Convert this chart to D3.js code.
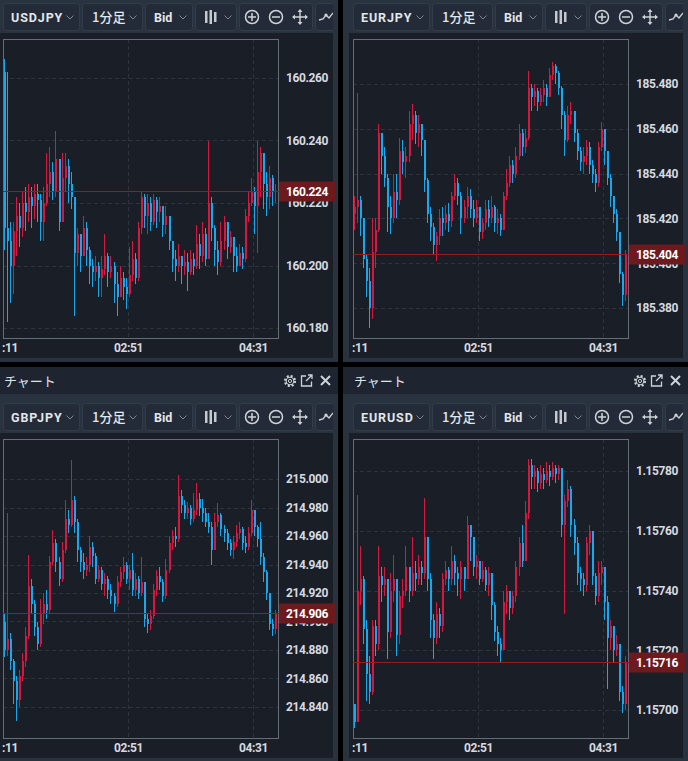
<!DOCTYPE html>
<html>
<head>
<meta charset="utf-8">
<script src="https://cdn.jsdelivr.net/npm/d3@7"></script>
<style>
  html, body { margin: 0; padding: 0; background: #000; overflow: hidden; }
  text { font-family: Roboto, "Noto Sans", sans-serif; }
</style>
</head>
<body>
<script>
// ---- data ----
// time axis, 1 session of ~220 minutes
const sessionStart = "01:11";
const sessionEnd = "04:51";
const timeLabels = ["01:11", "02:51", "04:31"];

// USDJPY, offsets in 0.001 above 160
const usdjpyTicks = [160.18, 160.20, 160.22, 160.24, 160.26];
const usdjpyOpen = 262;
const usdjpyClose = [212,208,200,211,216,212,220,217,222,219, 223,221,214,220,226,230,224,234,214,228,
  232,226,222,204,210,203,212,205,200,198, 200,196,199,203,198,200,194,190,196,193,
  191,197,202,196,212,222,216,220,214,221, 217,219,213,216,208,202,200,203,200,201,
  198,202,200,207,203,210,202,220,212,205, 201,208,214,206,209,203,200,204,202,216,
  220,224,219,230,236,226,222,228,224,224];
const usdjpyHigh = [266,262,214,214,222,220,224,225,226,225, 226,226,223,225,236,238,233,243,234,236,
  236,234,230,222,212,210,216,214,206,202, 203,201,203,210,204,203,201,198,200,198,
  196,206,208,204,214,224,223,223,222,223, 222,222,219,219,216,208,205,207,203,205,
  204,205,204,213,210,214,212,240,222,213, 208,214,216,214,211,208,206,207,206,218,
  224,228,225,240,238,234,230,232,229,226];
const usdjpyLow = [205,182,188,191,203,206,209,211,214,212, 215,214,208,208,219,222,221,222,211,218,
  224,220,218,184,200,198,204,200,194,193, 195,190,190,197,193,196,188,184,190,189,
  186,190,195,194,195,210,212,210,211,213, 212,214,209,210,205,198,195,198,194,197,
  192,197,197,199,199,201,200,202,208,200, 197,200,205,202,204,198,198,200,199,201,
  214,219,210,204,222,218,216,218,219,220];

// EURJPY, offsets in 0.001 above 185
const eurjpyTicks = [185.38, 185.40, 185.42, 185.44, 185.46, 185.48];
const eurjpyOpen = 422;
const eurjpyClose = [425,428,420,402,392,380,405,415,458,448, 438,425,420,432,428,450,445,448,462,466,
  458,462,455,437,422,416,408,412,420,418, 422,419,430,436,430,420,425,430,424,420,
  425,414,418,424,420,425,418,420,415,430, 436,444,440,448,458,452,456,478,474,477,
  472,475,478,474,484,488,485,478,466,455, 466,468,458,450,445,448,452,444,440,436,
  452,460,450,438,430,422,414,395,386,404];
const eurjpyHigh = [430,476,430,420,404,398,420,420,462,458, 452,440,430,440,440,456,455,452,468,471,
  468,466,462,455,438,425,418,414,424,425, 426,427,432,440,438,432,428,434,433,428,
  428,425,420,428,428,430,426,424,422,432, 442,448,446,452,462,460,460,486,480,480,
  478,478,482,480,487,490,489,486,479,468, 470,472,468,460,452,452,455,454,446,442,
  454,463,460,450,440,430,424,414,396,406];
const eurjpyLow = [415,418,412,398,385,371,375,398,414,440, 434,414,413,418,420,426,440,438,445,455,
  453,452,448,432,418,410,404,401,408,412, 415,414,416,428,426,413,418,420,420,416,
  418,410,411,415,416,418,414,413,412,415, 428,434,436,438,446,448,449,455,468,470,
  468,470,472,470,474,482,480,475,460,448, 454,462,454,446,441,440,444,440,436,432,
  434,450,444,435,425,418,410,391,381,383];

// GBPJPY, offsets in 0.001 above 214
const gbpjpyTicks = [214.84, 214.86, 214.88, 214.90, 214.92, 214.94, 214.96, 214.98, 215.00];
const gbpjpyOpen = 900;
const gbpjpyClose = [880,888,872,858,845,862,872,890,925,912, 896,884,905,912,908,942,955,942,930,950,
  972,968,985,970,950,942,936,940,952,946, 930,936,926,930,922,918,912,928,935,940,
  930,936,922,930,920,928,902,898,904,922, 932,928,918,936,955,960,958,988,982,976,
  980,972,978,986,980,976,970,966,950,970, 975,965,962,955,950,956,962,965,955,952,
  962,978,966,958,945,935,920,898,895,906];
const gbpjpyHigh = [905,976,892,874,862,866,878,896,947,930, 915,900,916,920,922,946,964,958,945,956,
  985,978,1013,988,972,952,948,945,960,956, 948,940,938,934,932,926,920,932,938,945,
  942,940,948,934,932,945,928,906,908,926, 936,938,930,944,960,964,966,1003,992,985,
  984,982,990,997,990,986,980,976,970,976, 983,976,968,965,958,960,968,970,966,960,
  966,985,978,968,970,948,936,920,902,908];
const gbpjpyLow = [875,876,866,842,830,840,858,868,888,905, 890,880,882,898,902,905,940,935,925,928,
  948,962,966,962,942,935,930,932,935,938, 926,928,922,918,916,912,907,910,924,930,
  926,922,918,918,916,918,896,892,894,902, 918,922,914,916,934,950,952,956,976,972,
  972,968,970,975,974,970,966,962,940,958, 966,960,956,950,946,944,952,958,950,948,
  950,960,960,952,940,928,915,894,890,891];

// EURUSD, offsets in 0.00001 above 1.157
const eurusdTicks = [1.1570, 1.1572, 1.1574, 1.1576, 1.1578];
const eurusdOpen = 2;
const eurusdClose = [-4,40,44,27,12,6,28,22,45,42, 44,26,40,44,25,38,40,48,40,46,
  44,48,46,58,44,30,24,32,28,44, 47,44,50,46,44,48,44,62,58,48,
  50,44,47,42,46,35,26,22,20,36, 40,34,38,48,56,50,66,82,78,80,
  76,79,77,80,78,81,79,81,62,70, 74,62,56,46,44,42,56,60,45,38,
  46,48,36,24,28,20,22,6,2,16];
const eurusdHigh = [2,72,55,45,30,18,30,30,55,48, 48,44,46,52,44,40,44,55,48,58,
  50,52,50,71,58,46,32,36,34,46, 50,48,55,52,48,50,48,65,62,58,
  52,50,50,48,48,46,36,28,24,40, 42,40,40,50,58,62,70,84,84,82,
  81,82,81,83,82,83,82,82,81,72, 77,75,64,58,48,46,58,62,60,46,
  50,50,48,38,30,28,25,22,8,18];
const eurusdLow = [-6,0,35,22,3,2,5,18,20,36, 38,17,24,36,18,22,34,38,36,38,
  40,42,42,44,40,24,17,22,24,26, 42,40,42,42,38,37,40,44,50,45,
  44,42,43,40,38,30,23,18,16,20, 32,30,32,36,45,48,50,64,74,74,
  73,74,74,76,75,77,76,77,58,32, 68,58,52,42,40,38,40,52,42,35,
  36,42,30,7,20,16,18,3,-1,0];

// ---- layout ----
const W = 688, H = 761;
const panels = [
  { symbol: "USDJPY", ox: 0,   oy: 0,   base: 160,   unit: 0.001,   digits: 3, open0: usdjpyOpen, close: usdjpyClose, high: usdjpyHigh, low: usdjpyLow, ticks: usdjpyTicks, yRange: [328, 78] },
  { symbol: "EURJPY", ox: 350, oy: 0,   base: 185,   unit: 0.001,   digits: 3, open0: eurjpyOpen, close: eurjpyClose, high: eurjpyHigh, low: eurjpyLow, ticks: eurjpyTicks, yRange: [308, 84] },
  { symbol: "GBPJPY", ox: 0,   oy: 400, base: 214,   unit: 0.001,   digits: 3, open0: gbpjpyOpen, close: gbpjpyClose, high: gbpjpyHigh, low: gbpjpyLow, ticks: gbpjpyTicks, yRange: [307, 79] },
  { symbol: "EURUSD", ox: 350, oy: 400, base: 1.157, unit: 0.00001, digits: 5, open0: eurusdOpen, close: eurusdClose, high: eurusdHigh, low: eurusdLow, ticks: eurusdTicks, yRange: [310, 71] }
];

const frame = { x0: 3, x1: 278, y0: 39, y1: 338 };
const colors = {
  panel: "#29323f", title: "#1e2530", chart: "#1a1f27", btn: "#222b37", btnStroke: "#323d4b",
  grid: "#2c3440", frame: "#646e79", text: "#d6dae0", icon: "#cfd3d9", chevron: "#7d8794",
  up: "#d8173f", down: "#17a8ef", priceLine: "#9a1c23", priceBox: "#6d1a1f"
};

const parseTime = d3.timeParse("%H:%M");
const t0 = parseTime(sessionStart), t1 = parseTime(sessionEnd);

const svg = d3.select("body").append("svg")
  .attr("width", W).attr("height", H)
  .attr("xmlns", "http://www.w3.org/2000/svg");
svg.append("rect").attr("width", W).attr("height", H).attr("fill", "#000");

panels.forEach((p, pi) => {
  const g = svg.append("g").attr("transform", `translate(${p.ox},${p.oy})`);

  // panel shell: border / toolbar colour, title bar, dark chart area
  g.append("rect").attr("x", -7).attr("y", -33).attr("width", 345).attr("height", 395).attr("fill", colors.panel);
  g.append("rect").attr("x", -7).attr("y", -33).attr("width", 345).attr("height", 27).attr("fill", colors.title);
  g.append("rect").attr("x", -1).attr("y", 33).attr("width", 334).attr("height", 325).attr("fill", colors.chart);

  // the top row's title bars sit above the window
  if (p.oy > 0) drawTitleBar(g);
  drawToolbar(g, p.symbol, pi);

  // scales
  const x = d3.scaleTime().domain([t0, t1]).range([frame.x0, frame.x1]);
  const y = d3.scaleLinear().domain([p.ticks[0], p.ticks[p.ticks.length - 1]]).range(p.yRange);
  const price = v => p.base + v * p.unit;

  // grid
  const grid = g.append("g").attr("stroke", colors.grid).attr("stroke-dasharray", "4,3").attr("shape-rendering", "crispEdges");
  grid.selectAll("line.h").data(p.ticks).enter().append("line")
    .attr("x1", frame.x0).attr("x2", frame.x1)
    .attr("y1", d => Math.round(y(d)) + 0.5).attr("y2", d => Math.round(y(d)) + 0.5);
  grid.selectAll("line.v").data(timeLabels.slice(1)).enter().append("line")
    .attr("x1", d => Math.round(x(parseTime(d))) + 0.5).attr("x2", d => Math.round(x(parseTime(d))) + 0.5)
    .attr("y1", frame.y0).attr("y2", frame.y1);

  // candles
  const n = p.close.length;
  const step = (t1 - t0) / n;
  const candles = p.close.map((c, i) => {
    const o = i ? p.close[i - 1] : p.open0;
    return {
      t: new Date(+t0 + step * (i + 0.5)),
      o: price(o), c: price(c),
      h: price(Math.max(p.high[i], o, c)), l: price(Math.min(p.low[i], o, c))
    };
  });

  const clipId = "plot" + pi;
  g.append("clipPath").attr("id", clipId).append("rect")
    .attr("x", frame.x0).attr("y", frame.y0).attr("width", frame.x1 - frame.x0).attr("height", frame.y1 - frame.y0);
  const cg = g.append("g").attr("clip-path", `url(#${clipId})`).attr("shape-rendering", "crispEdges");

  const cs = cg.selectAll("g.candle").data(candles).enter().append("g");
  cs.append("line")
    .attr("x1", d => Math.round(x(d.t)) - 0.5).attr("x2", d => Math.round(x(d.t)) - 0.5)
    .attr("y1", d => y(d.h)).attr("y2", d => y(d.l))
    .attr("stroke", d => d.c >= d.o ? colors.up : colors.down).attr("stroke-width", 1);
  cs.append("rect")
    .attr("x", d => Math.round(x(d.t)) - 1).attr("width", 2)
    .attr("y", d => y(Math.max(d.o, d.c)))
    .attr("height", d => Math.max(1, Math.abs(y(d.o) - y(d.c))))
    .attr("fill", d => d.c >= d.o ? colors.up : colors.down);

  // frame
  g.append("rect").attr("x", frame.x0 + 0.5).attr("y", frame.y0 + 0.5)
    .attr("width", frame.x1 - frame.x0).attr("height", frame.y1 - frame.y0)
    .attr("fill", "none").attr("stroke", colors.frame);

  // y axis
  const fmt = d3.format("." + p.digits + "f");
  const ya = g.append("g").attr("transform", "translate(328,0)")
    .call(d3.axisRight(y).tickValues(p.ticks).tickFormat(fmt).tickSize(0).tickPadding(0));
  ya.select(".domain").remove();
  ya.selectAll("text").attr("text-anchor", "end").attr("x", 0)
    .attr("fill", colors.text).style("font-size", "12px").style("font-weight", "bold")
    .style("letter-spacing", "-0.4px").style("font-family", "Roboto, sans-serif");

  // x axis (first label is cut by the chart's left edge, as in the app)
  const xClip = "xlab" + pi;
  g.append("clipPath").attr("id", xClip).append("rect").attr("x", 1.5).attr("y", 338).attr("width", 334).attr("height", 22);
  const xa = g.append("g").attr("clip-path", `url(#${xClip})`)
    .append("g").attr("transform", "translate(0,343)")
    .call(d3.axisBottom(x).tickValues(timeLabels.map(parseTime)).tickFormat(d3.timeFormat("%H:%M")).tickSize(0).tickPadding(0));
  xa.select(".domain").remove();
  xa.selectAll("text").attr("fill", colors.text).style("font-size", "12px").style("font-weight", "bold")
    .style("letter-spacing", "-0.4px").style("font-family", "Roboto, sans-serif");

  // last price line and label
  const last = candles[n - 1].c;
  const yl = Math.round(y(last)) + 0.5;
  g.append("line").attr("x1", frame.x0).attr("x2", frame.x1 + 1).attr("y1", yl).attr("y2", yl)
    .attr("stroke", colors.priceLine).attr("shape-rendering", "crispEdges");
  g.append("rect").attr("x", 279).attr("y", yl - 10).attr("width", 56).attr("height", 20).attr("fill", colors.priceBox);
  g.append("text").attr("x", 328).attr("y", yl).attr("dy", "0.36em").attr("text-anchor", "end")
    .attr("fill", "#ffffff").style("font-size", "12px").style("font-weight", "bold").style("letter-spacing", "-0.4px")
    .text(fmt(last));
});

function drawTitleBar(g) {
  const cy = -19;
  g.append("text").attr("x", 4).attr("y", cy + 5).attr("fill", "#dfe3e8")
    .style("font-family", "'Noto Sans CJK JP', sans-serif").style("font-size", "13px").text("チャート");
  // gear
  g.append("circle").attr("cx", 290).attr("cy", cy).attr("r", 5).attr("fill", "none")
    .attr("stroke", colors.icon).attr("stroke-width", 2.2).attr("stroke-dasharray", "2,1.93");
  g.append("circle").attr("cx", 290).attr("cy", cy).attr("r", 3.8).attr("fill", colors.title)
    .attr("stroke", colors.icon).attr("stroke-width", 1.1);
  g.append("circle").attr("cx", 290).attr("cy", cy).attr("r", 1.6).attr("fill", "none")
    .attr("stroke", colors.icon).attr("stroke-width", 1);
  // pop-out
  g.append("path").attr("d", `M306,${cy - 5} h-4.5 v10 h10 v-4.5 M306,${cy} l6,-6 M308,${cy - 6} h4 v4`)
    .attr("fill", "none").attr("stroke", colors.icon).attr("stroke-width", 1.3);
  // close
  g.append("path").attr("d", `M321,${cy - 5} l9,9 M330,${cy - 5} l-9,9`)
    .attr("fill", "none").attr("stroke", colors.icon).attr("stroke-width", 2);
}

function drawToolbar(g, symbol, pi) {
  const clipId = "tb" + pi;
  g.append("clipPath").attr("id", clipId).append("rect").attr("x", -7).attr("y", -6).attr("width", 340).attr("height", 39);
  const tb = g.append("g").attr("clip-path", `url(#${clipId})`);
  const buttons = [[3, 79], [82, 142], [145, 192], [195, 236], [239, 312], [315, 345]];
  tb.selectAll("rect.btn").data(buttons).enter().append("rect")
    .attr("x", d => d[0] + 0.5).attr("y", 3.5).attr("width", d => d[1] - d[0]).attr("height", 27).attr("rx", 3)
    .attr("fill", colors.btn).attr("stroke", colors.btnStroke);
  const cy = 17;
  tb.append("text").attr("x", 11).attr("y", cy + 4.5).attr("fill", "#e3e6ea")
    .style("font-size", "12.5px").style("font-weight", "bold").style("letter-spacing", "0.9px").text(symbol);
  tb.append("text").attr("x", 92).attr("y", cy + 5).attr("fill", "#e3e6ea")
    .style("font-family", "'Noto Sans CJK JP', sans-serif").style("font-size", "13px").style("font-weight", "500").text("1分足");
  tb.append("text").attr("x", 154).attr("y", cy + 4.5).attr("fill", "#e3e6ea")
    .style("font-size", "12.5px").style("font-weight", "bold").text("Bid");
  [70, 133, 183, 228].forEach(cx => {
    tb.append("path").attr("d", `M${cx - 3.5},${cy - 1.5} L${cx},${cy + 2} L${cx + 3.5},${cy - 1.5}`)
      .attr("fill", "none").attr("stroke", colors.chevron).attr("stroke-width", 1);
  });
  // candle style icon
  [[205, 12], [209.5, 14], [214, 10]].forEach(([bx, h]) => {
    tb.append("rect").attr("x", bx).attr("y", cy - h / 2).attr("width", 2.5).attr("height", h).attr("fill", "#c4c9d0");
  });
  // zoom in / zoom out / move
  tb.append("circle").attr("cx", 252).attr("cy", cy).attr("r", 6.5).attr("fill", "none").attr("stroke", colors.icon).attr("stroke-width", 1.5);
  tb.append("path").attr("d", `M248,${cy} h8 M252,${cy - 4} v8`).attr("stroke", colors.icon).attr("stroke-width", 1.5);
  tb.append("circle").attr("cx", 276).attr("cy", cy).attr("r", 6.5).attr("fill", "none").attr("stroke", colors.icon).attr("stroke-width", 1.5);
  tb.append("path").attr("d", `M272,${cy} h8`).attr("stroke", colors.icon).attr("stroke-width", 1.5);
  tb.append("path").attr("d", `M293,${cy} h14 M300,${cy - 7} v14`).attr("stroke", colors.icon).attr("stroke-width", 1.4);
  tb.append("path").attr("d",
      `M300,${cy - 8} l-2.5,3 h5 z M300,${cy + 8} l-2.5,-3 h5 z M292,${cy} l3,-2.5 v5 z M308,${cy} l-3,-2.5 v5 z`)
    .attr("fill", colors.icon);
  // drawing tool icon
  tb.append("path").attr("d", `M319,${cy + 3} l4,-1 l3,-4 l3,3 l4,-5`).attr("fill", "none")
    .attr("stroke", colors.icon).attr("stroke-width", 1.3);
  tb.append("circle").attr("cx", 326).attr("cy", cy - 2).attr("r", 1.6).attr("fill", colors.icon);
}
</script>
</body>
</html>
